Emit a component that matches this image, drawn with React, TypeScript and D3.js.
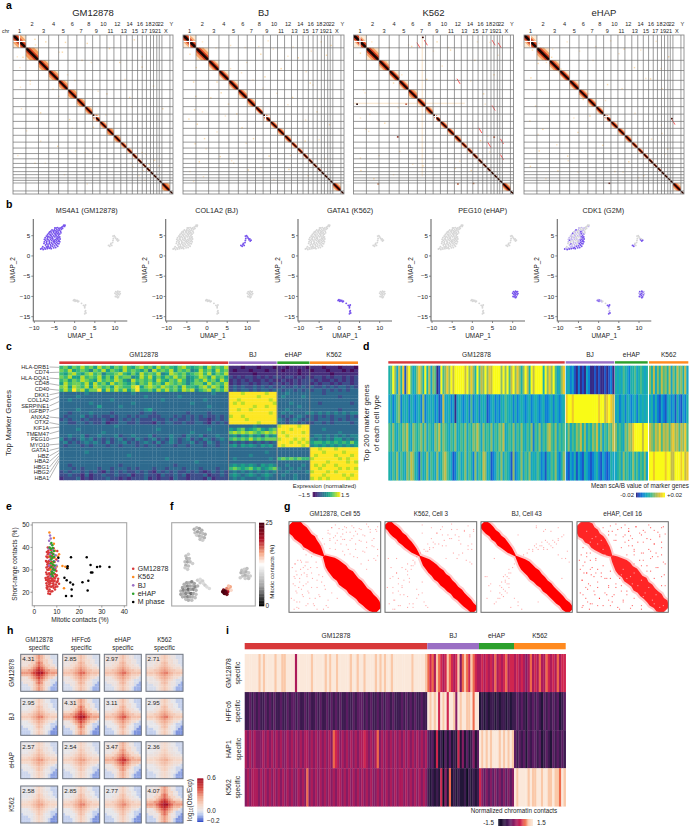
import * as d3 from 'd3';

const W = 696;
const H = 829;
const FONT = '"Liberation Sans", Arial, sans-serif';
const INK = '#262626';

// --- a: chromosome sizes in Mb, hg19
const chrNames = ['1','2','3','4','5','6','7','8','9','10','11','12','13','14','15','16','17','18','19','20','21','22','X','Y'];
const chrSizes = [249,243,198,191,181,171,159,146,141,135,135,133,115,107,102,90,81,78,59,63,48,51,155,59];
const contactTitles = ['GM12878','BJ','K562','eHAP'];
const contactBoxes = [[13,173],[183,344],[353.5,513.5],[524,684]];
// per chromosome share of strength of the intrachromosomal square
const blockGM = [.9,1,.95,.9,.9,1,.9,.85,.8,.8,1,.85,.7,.7,.6,.5,.5,.5,.4,.4,.4,.4,1,.1];
const blockBJ = [.8,.9,.8,.75,.75,.8,.8,.6,.7,.7,.8,.7,.6,.6,.5,.5,.5,.5,.4,.4,.4,.4,.8,.1];
const blockK5 = [.7,.85,.8,.7,.75,.9,.7,.8,.5,.7,.7,.7,.6,.6,.5,.5,.4,.4,.4,.4,.4,.4,.8,.1];
const blockEH = [.75,.85,.85,.7,.75,.8,.75,.7,.6,.7,.75,.7,.6,.6,.5,.5,.4,.4,.4,.4,.4,.4,.8,.1];
const specksGM = [[410,70],[620,120],[1000,130],[1420,150],[1850,250],[2330,80],[180,420],[940,320],[1320,480],[2050,520],[2480,610],[2700,980],[320,880],[760,1040],[1180,870],[1800,1130],[2240,1200],[2880,1420],[520,1500],[1080,1630],[1540,1780],[2020,1940],[2480,2270],[2620,2500],[2720,2420],[2810,2530],[2300,2550],[850,2150],[1380,2280],[410,2480]];
const specksBJ = [[120,360],[240,620],[190,900],[230,1180],[210,1440],[260,1720],[220,2100],[300,2450],[560,640],[640,900],[720,1110],[860,1330],[1020,1520],[1120,1790],[1340,2000],[1640,2340],[2020,2600],[2390,2720],[2640,120],[2740,380],[2200,430],[1870,640],[1560,800],[2430,920],[2090,1200],[2560,1480],[2800,1730],[700,2350],[960,2480],[1240,2610],[400,2000],[520,1210],[100,1620],[1480,360],[2830,190],[2330,2050]];
const specksK5 = [[120,340],[230,680],[180,1050],[300,1530],[230,1820],[120,2380],[130,2620],[380,2780],[620,500],[760,920],[1110,210],[1600,120],[1860,280],[2330,480],[2500,1130],[1720,1700],[1950,2580],[2260,2620],[2440,2040],[2700,760],[590,1700],[880,2250],[1330,2530],[1400,850]];
const specksEH = [[150,280],[260,540],[120,820],[300,1060],[210,1370],[100,1660],[350,1820],[280,2240],[110,2540],[520,420],[700,650],[930,980],[1130,1240],[1260,1560],[1030,1880],[830,2340],[1510,2130],[1740,2640],[2010,2450],[2300,2720],[2650,1030],[2430,840],[2120,620],[1920,260],[2780,410],[2650,1900],[2760,2200],[1600,950],[480,1320],[640,2630]];
const k562Arrows = [[1225,149],[1367,100],[2676,100],[2792,149],[1999,850],[2676,1369],[2418,1804],[2592,2083],[2837,2018],[2837,2323]];
const k562Spots = [[52,1330,'#200'],[838,1966,'#8c2d20'],[1322,32,'#300'],[1999,2880,'#b5502a'],[2300,2870,'#c87a50'],[460,2880,'#c87a50'],[1000,1330,'#c05a40'],[2700,1970,'#b05030']];
const ehapArrows = [[2856,1641]];
const ehapSpots = [[1631,2868,'#6a1a10'],[2840,1610,'#401008']];
const centromeres = [[0,125],[8,47]];

// --- b: UMAP cells [x, y, CDK1 level]
const umapGM = [[-8.4,1.7,2],[-8.1,1.9,1],[-7.8,1.6,2],[-7.5,2.0,1],[-7.3,1.7,2],[-7.0,2.2,1],[-6.8,1.8,2],[-6.5,2.3,1],[-6.3,1.9,2],[-6.0,2.1,2],[-5.8,1.8,2],[-5.5,2.4,2],[-5.2,2.0,2],[-5.0,2.5,2],[-4.7,2.1,2],[-4.5,2.7,2],[-4.2,2.4,2],
[-7.2,2.7,1],[-6.9,3.0,2],[-6.6,2.7,1],[-6.3,3.1,0],[-6.0,2.8,1],[-5.7,3.2,1],[-5.4,2.9,0],[-5.1,3.3,1],[-4.8,3.0,2],[-4.5,3.4,2],[-4.2,3.1,2],[-3.9,3.0,2],[-3.7,3.5,2],
[-7.5,3.5,1],[-7.2,3.9,2],[-6.9,3.6,0],[-6.6,4.0,1],[-6.3,3.7,0],[-6.0,4.1,1],[-5.7,3.8,0],[-5.4,4.2,1],[-5.1,3.8,0],[-4.8,4.1,1],[-4.5,3.9,2],[-4.2,4.2,2],[-3.9,3.9,2],[-3.6,4.2,2],
[-7.3,4.5,1],[-7.0,4.9,0],[-6.7,4.5,1],[-6.4,4.8,0],[-6.1,4.5,1],[-5.8,4.9,1],[-5.5,4.6,0],[-5.2,5.0,1],[-4.9,4.7,0],[-4.6,5.0,1],[-4.3,4.7,2],[-4.0,5.0,2],[-3.7,4.7,2],
[-6.7,5.3,1],[-6.4,5.6,2],[-6.1,5.3,0],[-5.8,5.7,1],[-5.5,5.4,0],[-5.2,5.8,1],[-4.9,5.5,0],[-4.6,5.8,1],[-4.3,5.5,2],[-4.0,5.8,1],[-3.7,5.4,2],
[-5.9,6.1,1],[-5.6,6.4,2],[-5.3,6.1,0],[-5.0,6.5,1],[-4.7,6.2,1],[-4.4,6.5,0],[-4.1,6.2,1],[-3.8,6.4,1],[-3.5,6.1,0],
[-4.6,6.9,0],[-4.2,7.0,1],[-3.9,6.7,0],[-3.6,6.9,1],[-3.3,6.6,0],[-3.2,7.1,0],[-2.9,7.3,0],[-2.7,7.6,0],[-2.5,7.3,1],[-2.4,7.6,0],
[-7.9,2.3,0],[-6.7,2.2,1],[-5.9,2.5,1],[-5.3,3.6,0],[-6.2,3.4,1],[-7.0,3.3,0],[-4.9,3.6,1],[-4.1,3.6,2],[-5.6,4.4,0],[-6.8,4.2,1],[-4.4,4.4,1],[-5.9,5.1,1],[-4.7,5.3,1],[-3.9,5.4,1],[-6.2,5.9,0],[-5.1,6.2,0],[-4.4,6.0,2],[-6.8,4.9,1],[-3.9,4.5,2],[-7.6,3.1,0],[-4.9,6.9,1],[-3.4,5.7,0],[-3.0,6.8,0],[-7.5,4.1,1]];
const umapBJ = [[8.4,2.6,2],[8.7,2.4,2],[8.9,2.8,1],[9.2,2.6,0],[9.0,3.1,0],[9.4,3.3,0],[9.5,3.8,0],[9.6,4.3,0],[9.5,4.9,0],[9.8,5.0,0],[10.0,4.7,0],[10.2,4.4,0],[10.4,4.0,2],[10.7,3.7,2],[10.9,3.9,2],[10.6,4.2,0]];
const umapEH = [[10.0,-9.2,1],[10.2,-8.8,2],[10.3,-9.5,2],[10.5,-9.0,1],[10.6,-9.8,2],[10.7,-8.7,2],[10.8,-9.4,1],[10.9,-10.1,2],[11.0,-8.9,2],[11.1,-9.6,2],[10.4,-10.1,1],[10.7,-10.3,2],[11.3,-9.3,1],[10.1,-10.0,2],[10.6,-9.3,2],[11.2,-8.8,1]];
const umapK5 = [[-0.3,-11.0,2],[-0.1,-10.8,1],[0.1,-11.2,2],[0.2,-10.9,2],[0.4,-11.1,1],[0.6,-11.0,1],[0.8,-11.3,1],[1.0,-11.2,0],[1.7,-11.7,0],[2.2,-12.2,2],[2.5,-12.4,2],[2.7,-12.1,2],[2.5,-12.8,1],[2.6,-13.8,1],[2.8,-14.1,2],[2.5,-14.3,2],[2.7,-13.5,1]];
const umapTitles = ['MS4A1 (GM12878)','COL1A2 (BJ)','GATA1 (K562)','PEG10 (eHAP)','CDK1 (G2M)'];
const umapAxisX = [33.3,165.7,298,431,557.3];
const umapTitleX = [86.7,216.7,350,482.7,603.3];
const umapHighlight = ['gm','bj','k5','eh','cdk1'];
const umapXTicks = [-10,-5,0,5,10];
const umapYTicks = [5,0,-5,-10,-15];

// --- c: expression levels, rows of [GM12878, BJ, eHAP, K562]
const exprRows = [
['6757686758675768657867586765786567586768','111011101110','11011110','111011101110'],
['7685676476857658676574867685767458675867','101110111011','10111011','011101110101'],
['6578657867466786575867684587675678685768','111111011111','11111011','111110111111'],
['7685586768575867745868575768674568758675','212122121212','21221212','122121221212'],
['6757687658676875486767586576864576867586','121212112121','12112122','212112121212'],
['5867768586758676575768675876764677586768','121221212212','21212122','121221212212'],
['7858768587675876689578768767586657868758','232322323232','23223232','322323233232'],
['6869785779586868579667586867587846785768','232332323323','32332323','233232323233'],
['3333334333333333343333333333333333334333','999899999899','33433333','333233333333'],
['3333433333333333333343333333433333333333','999999989999','34333343','333333323333'],
['3343333333334333333333334333333333433333','998999999989','33333333','333333333333'],
['3333333433333333343333333333333433333333','989899999998','33343333','332333333323'],
['3333333335333343333333333333333333343333','999999899899','33333433','333333333333'],
['3333433333333333333345333333333333333333','998998999999','33433333','333333323333'],
['3323333433332333333233233333332333323333','999999999989','34343334','434343434344'],
['3233342323223233232332223332323232322323','899899999999','32323432','323232333232'],
['2323323222321232323222322323223232212323','999989999999','43234323','323332323233'],
['3322332322312233223222132332232233213232','999999989999','33233232','233232333323'],
['3333333333333433333333333333333333333333','333333433333','89999899','333333333333'],
['3333433333333333333333343333333333343333','546745675467','99989999','333433333333'],
['3333333333433333333333333333333433333333','787878767878','98999989','333333343333'],
['3343342334333423343334233343324334233433','453546453645','99899999','344343434344'],
['4232343423232342324323423243234232432343','676768676777','89998989','434343553434'],
['3423234343242334232343242343233423243233','232323232323','99989898','566565656575'],
['3233323233323323332323323332332333233233','453545435453','98999989','454545454545'],
['3333333333333333333333333333333333333333','333333333333','33333333','998999899999'],
['3333334333333333333333333333333333333333','333333333433','33333333','999899998999'],
['3333333333333333433333333333333333333333','333334333333','33333333','989999899989'],
['3333333333333333333333333433333333333333','343333333343','67676766','899999989899'],
['3333333333333333333333333333333343333333','333333333333','33333333','999989999898'],
['3323333333333323333333333332333333333333','454545435454','33433343','989899899999'],
['3332323332332333232333233233323332333233','676567564567','43343433','998999989898'],
['2323323232132323223232132323223232123232','343434343434','33433334','899989899999'],
['2232213122322322312232213223231222312232','454345434543','34334333','999899998989'],
['1222312122232212122231212213221222131222','343433343433','33334333','898989999899'],
];
const geneNames = ['HLA-DRB1','CD74','HLA-DQA1','CD48','CD40','DKK1','COL1A2','SERPINE1','IGFBP7','ANXA2','OTX2','KIF1A','TMEM47','PEG10','MYO10','GATA1','HBZ','HBA2','HBG1','HBG2','HBA1'];
const geneRowTargets = [.5,2,4,6,7.5,8.3,9.5,11,13,16,18,18.8,20,22,24,25.2,26,26.8,27.6,28.4,29.2];

// --- d: mean scA/B per cell
const abRows = [
['4596374817953468649473650195686979999979686495769687999969695796864697497999949686953468','342310201032001010010120','43435432445345434','64736475647364756473'],
['3423562434243234262343423127334230343234252342434123423243543424234323423432342234243234','899899999999999989978987','34234243234243434','34242132134231421324'],
['5464354657436545646354365746543546345463546575364546354657345463546435462546354675463545','463546574635465746354657','64543657689999799','76576857675786757685'],
['4354635436576431534635436346754312453463542635476341235463543162346354634354231435463246','213241321432123421321243','34536453464535463','99899999899779998978'],
];
const abDigitColors = ['#352a87','#1c55c8','#0f7fd6','#12a4c4','#1fb0a8','#4ebb88','#8fbc62','#c4bc44','#eec92a','#f9fb15'];

// --- i: normalized contacts per cell
const contactRows = [
['99999989899998998899995999999899999898998999998998998999989898998999999998999998','767587656876568478768765','5656565756567566','56565457565755765657566'],
['22323232232323223223233232232322323223232323223223233323232232323323222323232322322','989896989699849899889799','1212122121221212','23232132323213232323123'],
['54545444545454545445454545455454545454547654545454545565454574545454545454545454545','323161203131216141312413','9898989998989898','32323132332312321323232'],
['45455545454545454545454454547454545454545455454545454545454454545454545545454545454','212121604171212112021212','6434343434343434','98999989889989988988798'],
];
const contactDigitColors = ['#0d0a24','#241338','#3d1a50','#5b1e62','#861d63','#ad1a5a','#cf2550','#ef6a4c','#fac8a8','#fbe8da'];

// shared group names and colours
const groupNames = ['GM12878','BJ','eHAP','K562'];
const groupColors = ['#d8393a','#9a6fc4','#2ca02c','#ff8a1f'];

// --- e: mitotic vs short-range contacts, in percent
const scatterGM = [[5.2,25.5],[5.4,24],[5.6,23],[5.8,21.5],[6,22.5],[6.2,19.5],[6.4,20.5],[6.6,23.5],[6,25],[6.8,21.2],[7,19.2],[7.2,24],[7.6,22.5],[7.8,26],[8,20.5],[8.4,24],[8.6,22],[9,25],[9.2,21.2],[9.6,23.5],[10,24.5],[10.2,22.6],[10.6,26],[6.2,27],[6.6,28.5],[6.8,26.2],[7.2,27.5],[7.6,29],[8,27.5],[8.4,28.5],[8.8,26.5],[9.2,28],[9.6,27],[5.6,28],[5.8,30],[6,31.5],[6.2,33],[6.4,30],[6.6,32],[6.8,34],[7,30.8],[7.2,33],[7.4,35],[7.6,31.5],[7.8,33.5],[8,30],[8.2,32],[8.4,35.5],[8.8,31],[9,33.5],[9.4,30.5],[5.6,33.5],[5.8,35.5],[6,37],[6.2,38.5],[6.4,35.8],[6.6,39.8],[6.8,37.5],[7.2,39],[7.6,37.4],[8,38.8],[8.4,37.2],[5.4,31],[5.4,36],[6.8,28],[7.4,26.4],[5.8,26.6],[9.8,29.5],[7.8,25],[8.6,23.2],
[5,26.4],[5.3,28.8],[5.5,22],[6.4,24.4],[7,22.6],[7.4,20.4],[8.2,22.8],[8.8,25],[9.4,22.4],[10.4,25],[11,23.8],[6.2,25.8],[7,25],[8.2,25.6],[9.2,26.2],[10,27.6],[5.2,34],[5.6,38],[6.4,34],[7,36],[5.8,32.4],[6.4,37.6],[7.8,36.2],[7,31.8],[9.8,34.6],[10.2,38.4],[8.6,39.6],[6,40],[6.6,30.4],[7.8,28.2]];
const scatterK5 = [[6.7,46.7],[8.7,44.2],[8.7,41.6],[12.5,31.7],[13.8,31.4],[14.7,31],[13.2,21.8],[9,35.4],[10.5,36],[11,37],[10,31.5],[8,33],[7.3,30],[9.2,38.5],[6.8,36]];
const scatterBJ = [[7,45.3],[7.3,44],[6.6,43],[7.3,41.5],[6.4,39.5],[7,37],[8.2,39],[9.5,36.5],[8.8,34],[6.6,32],[8,29.5],[7.4,27.2],[9.8,32],[10.6,34],[9.2,31],[7,34.5]];
const scatterEH = [[7.6,42],[8,41],[6.8,40],[7.4,39.4],[8.2,39.8],[8.8,38.4],[7.6,37.8],[8.4,37],[7.2,36],[8,35.4],[8.8,35.8],[7.6,34.6],[8.6,33.6],[7.4,33],[8.2,32.4],[9,32],[7.6,31.2],[8.4,30.4],[7.8,29.2],[8.6,28.6],[7.6,28],[8.2,27.2],[9,29.8]];
const scatterM = [[10.7,35.4],[16.3,35.6],[23.3,35.6],[25,32.2],[14.7,30.7],[14.8,31.6],[27.9,31.3],[29.2,31.5],[33.4,31.3],[25.8,28.8],[25.2,28.8],[13.4,26.5],[14.4,25.4],[16,24.4],[17.2,23.5],[21.4,24.5],[24,25.1],[23.7,20.8],[16.6,21.3],[14.1,18.4],[16.6,18.4]];
const scatterLegend = ['GM12878','K562','BJ','eHAP','M phase'];
const scatterColors = ['#d8393a','#ff8a1f','#9a6fc4','#2ca02c','#000000'];
const scatterXTicks = [0,10,20,30,40];
const scatterYTicks = [20,30,40,50];

// --- f: cells on the UMAP [x, y, mitotic %]
const mitoticCells = [[27,8,7],[30,6,8],[33,7,6],[36,9,7],[28,12,8],[31,11,6],[34,12,7],[37,13,8],[40,14,7],[30,15,9],[33,16,7],[36,17,8],[39,18,7],[34,20,8],[37,21,9],
[17,40,8],[20,38,9],[18,43,7],[21,43,8],[16,47,8],[19,47,6],[22,47,8],[25,49,9],[17,51,7],[20,52,8],[19,56,9],[16,54,9],
[84,57,8],[87,56,9],[90,55,8],[83,60,7],[86,60,8],[89,59,7],[92,60,9],[85,64,8],[88,63,7],[91,64,8],[94,64,9],[88,67,9],[92,67,8],[82,66,9],
[15,74,7],[18,72,6],[21,72,7],[24,71,5],[27,73,6],[13,78,6],[16,77,7],[19,76,5],[22,76,6],[25,76,7],[28,77,5],[31,76,7],[11,82,7],[14,81,5],[17,81,6],[20,80,4],[23,80,6],[26,80,5],[29,81,7],[11,86,6],[14,85,7],[17,85,5],[20,84,6],[23,85,4],[26,85,6],[29,86,8],[13,89,7],[16,89,6],[19,89,5],[22,89,6],[25,89,7],[28,90,8],[17,92,8],[20,93,7],[24,93,8],
[31,69,9],[34,68,10],[37,70,9],[34,72,9],[38,73,10],[40,75,9],[42,77,10],[45,79,10],
[66,79,17],[69,80,16],[70,77,16],[68,76,15],[71,81,14],[67,83,20],[62,81,23],[64,82,25],[66,86,23],[61,83,25],[63,85,25],[65,84,24]];

// --- g: diagonal band half widths per arm, and off-diagonal contacts
const cellTitles = ['GM12878, Cell 55','K562, Cell 3','BJ, Cell 43','eHAP, Cell 16'];
const cellBoxes = [[289,380.7],[385,476.7],[481,572.3],[577,668.3]];
const armOne = [[4,6,6.5,6,6.5,6,5.5,6,5,4.5,3.5,2,.4],[3.5,4,3.5,4,4,3.5,4,3.5,3.5,3,2.5,1.5,.3],[3.5,4,4,4,3.5,4,3.5,4,3.5,3,2.5,1.5,.3],[4.5,7,6.5,7.5,6.5,7,6,6.5,6,5,4,2.5,.6]];
const armTwo = [[1,3,5,6,6.5,7,6.5,7.5,7,6.5,7,6.5,6,6.5,6,6,5.5,5,4.5],[.5,2,3.5,4,4.5,4.5,5,4.5,5,4.5,4.5,4,4.5,4,4,4,3.5,3.5,3],[.5,2,3.5,4.5,4.5,4.5,5,4.5,4.5,4,4.5,4,4,4,4,3.5,4,3.5,3],[1,3,4.5,6,6.5,6,7,6.5,6,7,6,6.5,6,6,6.5,5.5,6,5.5,5]];
const specksCell = [
[[6,46],[9,42],[5,60],[12,52],[18,44],[24,38],[15,30],[22,28],[10,72],[14,80],[8,88],[20,66],[30,50],[32,58],[42,12],[50,15],[58,13],[66,11],[74,13],[82,15],[88,11],[56,24],[64,30],[72,24],[80,32],[90,26],[62,6],[94,42],[30,72],[20,90],[40,92],[52,84],[10,95],[28,84],[8,58],[16,56],[26,34],[18,36],[3,50],[4,68],[7,76],[11,62],[13,44],[15,70],[17,48],[19,58],[21,78],[23,50],[25,62],[27,92],[29,44],[33,82],[35,66],[37,96],[39,74],[2,84],[5,96],[46,6],[54,7],[70,6],[78,8],[86,5],[94,8],[44,20],[52,20],[60,19],[68,18],[76,20],[84,22],[92,18],[96,30],[70,38],[86,42],[78,46],[60,36]],
[[3,40],[5,62],[8,78],[4,90],[12,56],[18,50],[24,46],[30,42],[34,38],[46,32],[52,28],[58,24],[64,20],[70,18],[76,14],[86,10],[92,14],[60,8],[74,34],[88,42],[94,30],[20,80],[30,90],[10,96],[44,92],[16,92],[6,50],[82,24],[26,66],[96,8],[28,48],[22,52],[32,44],[14,62],[18,72],[9,86],[2,72],[36,80],[24,94],[48,30],[54,24],[62,26],[68,14],[80,16],[90,26],[56,12],[72,8],[84,34],[78,40],[94,46],[40,66],[12,40]],
[[50,34],[56,32],[62,30],[68,28],[74,24],[80,22],[84,20],[58,26],[70,20],[46,36],[24,60],[26,66],[22,72],[20,78],[18,84],[24,82],[30,56],[8,70],[6,84],[40,88],[60,6],[76,10],[92,40],[88,62],[14,40],[32,94],[52,30],[64,26],[72,30],[78,28],[88,16],[28,60],[30,68],[22,66],[26,76],[14,90],[4,60],[44,96],[68,10],[84,36]],
[[4,36],[8,44],[3,52],[10,56],[5,64],[12,68],[3,78],[9,84],[6,92],[14,90],[16,50],[18,60],[22,72],[24,84],[28,92],[32,80],[30,62],[38,88],[44,94],[42,72],[50,86],[36,62],[14,42],[22,52],[48,6],[56,10],[64,5],[72,9],[80,6],[88,11],[94,5],[56,20],[66,22],[76,18],[84,24],[92,22],[62,32],[72,34],[82,38],[92,36],[76,48],[88,50],[95,58],[84,62],[28,48],[36,54],[48,70],[6,28],[10,34],[34,14],[42,20],[2,42],[7,56],[11,74],[15,58],[19,80],[13,96],[26,56],[34,70],[40,80],[46,62],[54,76],[60,92],[70,96],[20,40],[26,30],[38,10],[52,14],[60,26],[70,14],[78,30],[90,16],[68,42],[80,54],[92,70],[86,34],[96,46]],
];
const ehapHoles = [[10,10],[16,18],[22,24],[14,22],[28,30],[20,16],[30,36],[26,20],[50,52],[58,60],[66,70],[74,78],[82,86],[90,94],[54,62],[62,56],[70,64],[78,72],[86,80],[48,58],[72,82],[84,90],[60,68],[94,92]];

// --- h: pileup levels, one shared aggregate and one strength for each panel
const pileupGrid = ['222223454322111','222223454322111','222233454332211','222233565332211','222334565433221','333345676543332','444556787655444','555567899765555','444456787654443','222345676543321','222234565432111','122223565322110','111223454322100','111123454321000','111123454321000'];
const pileupCols = ['GM12878','HFFc6','eHAP','K562'];
const pileupRows = ['GM12878','BJ','eHAP','K562'];
const pileupScores = [['4.31','2.85','2.97','2.71'],['2.95','4.31','3.11','2.95'],['2.57','2.54','3.47','2.36'],['2.58','2.85','2.77','4.07']];
const pileupStrength = [[1,.62,.6,.55],[.6,1.05,.72,.62],[.5,.48,.85,.4],[.5,.6,.58,1.1]];
const pileupShift = [0,-.03,-.015,-.03];
const pileupColX = [20.7,62.7,104.3,146];
const pileupRowY = [654.3,698.3,741.7,786];
const iRowLabels = ['GM12878','HFFc6','HAP1','K562'];

const T = ({ x, y, size = 6.5, anchor = 'start', weight = 'normal', rotate, children, fill = INK }: any) => (
  <text
    x={x}
    y={y}
    fontSize={size}
    textAnchor={anchor}
    fontWeight={weight}
    fill={fill}
    fontFamily={FONT}
    transform={rotate !== undefined ? `rotate(${rotate} ${x} ${y})` : undefined}
  >
    {children}
  </text>
);

const diagBand = (x0: number, y0: number, x1: number, y1: number, w: number) =>
  d3.line()([[x0, y0], [x0 + w, y0], [x1, y1 - w], [x1, y1], [x1 - w, y1], [x0, y0 + w]]) + 'Z';

const ContactMap = ({ index }: { index: number }) => {
  const [left, right] = contactBoxes[index];
  const top = 35;
  const bottom = 194;
  const ends = Array.from(d3.cumsum(chrSizes));
  const total = ends[ends.length - 1];
  const sx = d3.scaleLinear().domain([0, total]).range([left, right]);
  const sy = d3.scaleLinear().domain([0, total]).range([top, bottom]);
  const starts = [0, ...ends.slice(0, -1)];
  const strength = [blockGM, blockBJ, blockK5, blockEH][index];
  const specks = [specksGM, specksBJ, specksK5, specksEH][index];
  const arrows = index === 2 ? k562Arrows : index === 3 ? ehapArrows : [];
  const spots: any[] = index === 2 ? k562Spots : index === 3 ? ehapSpots : [];
  return (
    <g>
      <T x={(left + right) / 2} y={16} size={9.5} anchor="middle">{contactTitles[index]}</T>
      {index === 0 ? <T x={2} y={32.5} size={5.3}>chr</T> : null}
      {chrNames.map((name, i) => (
        <T key={name} x={sx(starts[i] + chrSizes[i] / 2)} y={i % 2 ? 25.5 : 32.5} size={5.6} anchor="middle">{name}</T>
      ))}
      {index === 2 && (
        <g fill="#f9e2c4" opacity={0.7}>
          <rect x={sx(0)} y={sy(1315)} width={sx(2150) - sx(0)} height={1.4} />
          <rect x={sx(1315)} y={sy(0)} width={1.4} height={sy(2750) - sy(0)} />
        </g>
      )}
      {specks.flatMap(([a, b], i) => [
        <rect key={`s${i}`} x={sx(a)} y={sy(b)} width={1.4} height={1.4} fill="#f9c77e" opacity={0.65} />,
        <rect key={`m${i}`} x={sx(b)} y={sy(a)} width={1.4} height={1.4} fill="#fbd49a" opacity={0.55} />,
      ])}
      {chrSizes.map((_, i) => {
        const s = strength[i];
        const x0 = sx(starts[i]);
        const x1 = sx(ends[i]);
        const y0 = sy(starts[i]);
        const y1 = sy(ends[i]);
        const side = x1 - x0;
        return (
          <g key={i}>
            <rect x={x0} y={y0} width={side} height={y1 - y0} fill="#fbd7ae" opacity={0.85 * s * s} />
            <path d={diagBand(x0, y0, x1, y1, side * 0.66 * s)} fill="#f3914a" opacity={0.85 * s} />
            <path d={diagBand(x0, y0, x1, y1, side * 0.32)} fill="#d8401e" />
            <path d={diagBand(x0, y0, x1, y1, Math.max(0.9, side * 0.15))} fill="#180402" />
          </g>
        );
      })}
      {centromeres.map(([c, pos]) => {
        const p = starts[c] + pos;
        const l = sx(starts[c]);
        const r = sx(ends[c]);
        return (
          <g key={c} fill="#fff">
            <rect x={l} y={sy(p) - 0.6} width={r - l} height={1.2} />
            <rect x={sx(p) - 0.6} y={sy(starts[c])} width={1.2} height={sy(ends[c]) - sy(starts[c])} />
          </g>
        );
      })}
      {arrows.map(([a, b], i) => (
        <line key={i} x1={sx(a)} y1={sy(b)} x2={sx(a + 60)} y2={sy(b + 100)} stroke="#ff4a4a" strokeWidth={0.9} />
      ))}
      {spots.map(([a, b, c], i) => (
        <rect key={i} x={sx(a)} y={sy(b)} width={1.8} height={1.5} fill={c} />
      ))}
      <rect x={left} y={top} width={right - left} height={bottom - top} fill="none" stroke="#8a8a8a" strokeWidth={0.9} />
      <g stroke="#707070" strokeWidth={0.7}>
        {ends.slice(0, -1).map((e) => (
          <g key={e}>
            <line x1={sx(e)} x2={sx(e)} y1={top} y2={bottom} />
            <line x1={left} x2={right} y1={sy(e)} y2={sy(e)} />
          </g>
        ))}
      </g>
    </g>
  );
};

const UmapPanel = ({ index }: { index: number }) => {
  const ax = umapAxisX[index];
  const sx = d3.scaleLinear().domain([-10, 10]).range([ax + 1, ax + 81.7]);
  const sy = d3.scaleLinear().domain([5, -15]).range([235.7, 316.7]);
  const mode = umapHighlight[index];
  const purple = '#7653ec';
  const pale = '#c5b8ef';
  const gray = '#d6d6d6';
  const colorFor = (group: string, c: number) => {
    if (mode === 'cdk1') return c === 2 ? purple : c === 1 ? pale : gray;
    return group === mode ? purple : gray;
  };
  const groups: [string, number[][]][] = [['gm', umapGM], ['bj', umapBJ], ['eh', umapEH], ['k5', umapK5]];
  return (
    <g>
      <T x={umapTitleX[index]} y={213} size={7.2} anchor="middle">{umapTitles[index]}</T>
      {groups.map(([g, pts]) =>
        pts.map(([x, y, c], i) => <circle key={g + i} cx={sx(x)} cy={sy(y)} r={0.95} fill={colorFor(g, c)} />)
      )}
      <path d={`M${ax},219V321H${ax + 94}`} fill="none" stroke="#6a6a6a" strokeWidth={1.1} />
      {umapXTicks.map((t) => (
        <g key={t}>
          <line x1={sx(t)} x2={sx(t)} y1={321} y2={323} stroke="#6a6a6a" strokeWidth={0.8} />
          <T x={sx(t)} y={329.5} size={6.2} anchor="middle">{String(t).replace('-', '\u2212')}</T>
        </g>
      ))}
      {umapYTicks.map((t) => (
        <g key={t}>
          <line x1={ax - 2} x2={ax} y1={sy(t)} y2={sy(t)} stroke="#6a6a6a" strokeWidth={0.8} />
          <T x={ax - 3} y={sy(t) + 2.2} size={6.2} anchor="end">{String(t).replace('-', '\u2212')}</T>
        </g>
      ))}
      <T x={ax + 47} y={338} size={6.4} anchor="middle">UMAP_1</T>
      <T x={ax - 18.5} y={270} size={6.4} anchor="middle" rotate={-90}>UMAP_2</T>
    </g>
  );
};

// bands per group so each cell string fits its own header segment
const GroupHeat = ({ rows, edges, rowEdges, color }: any) => (
  <g filter="url(#soft)">
    {rows.map((row: string[], r: number) =>
      row.map((cells: string, g: number) => {
        const sx = d3.scaleLinear().domain([0, cells.length]).range([edges[g][0], edges[g][1]]);
        return cells.split('').map((d, c) => (
          <rect
            key={`${r}-${g}-${c}`}
            x={sx(c)}
            y={rowEdges(r)}
            width={sx(c + 1) - sx(c) + 0.25}
            height={rowEdges(r + 1) - rowEdges(r) + 0.25}
            fill={color(+d)}
          />
        ));
      })
    )}
  </g>
);

const GroupBar = ({ edges, y, height, labelY, size = 6.6 }: any) => (
  <g>
    {edges.map(([a, b]: number[], i: number) => (
      <g key={i}>
        <rect x={a} y={y} width={b - a} height={height} fill={groupColors[i]} />
        <T x={(a + b) / 2} y={labelY} size={size} anchor="middle">{groupNames[i]}</T>
      </g>
    ))}
  </g>
);

const HBar = ({ x0, x1, y, h, color }: any) => {
  const s = d3.scaleLinear().domain([0, 40]).range([x0, x1]);
  return (
    <g>
      {d3.range(40).map((i) => (
        <rect key={i} x={s(i)} y={y} width={s(1) - s(0) + 0.3} height={h} fill={color(i / 39)} />
      ))}
    </g>
  );
};

const VBar = ({ x, w, y0, y1, color }: any) => {
  const s = d3.scaleLinear().domain([0, 60]).range([y0, y1]);
  return (
    <g>
      {d3.range(60).map((i) => (
        <rect key={i} x={x} y={s(i)} width={w} height={s(1) - s(0) + 0.3} fill={color(i / 59)} />
      ))}
    </g>
  );
};

const MarkerPanel = () => {
  const edges = [[59.3, 228.3], [228.9, 276.7], [277.3, 309.5], [310, 358]];
  const rowEdges = d3.scaleLinear().domain([0, exprRows.length]).range([365.7, 480]);
  const color = (d: number) => d3.interpolateViridis(0.02 + d * 0.109);
  const labelY = d3.scaleLinear().domain([0, 20]).range([368.8, 480]);
  return (
    <g>
      <GroupBar edges={edges} y={361.4} height={2.6} labelY={357} />
      <GroupHeat rows={exprRows} edges={edges} rowEdges={rowEdges} color={color} />
      {edges.slice(0, 3).map(([, b]) => (
        <line key={b} x1={b + 0.3} x2={b + 0.3} y1={365.7} y2={480} stroke="#808080" strokeWidth={0.8} />
      ))}
      <T x={11} y={423} size={8} anchor="middle" rotate={-90}>Top Marker Genes</T>
      {geneNames.map((g, i) => (
        <g key={g}>
          <T x={49} y={labelY(i)} size={5.6} anchor="end">{g}</T>
          <line x1={49.5} y1={labelY(i) - 1.8} x2={59} y2={rowEdges(geneRowTargets[i])} stroke="#444" strokeWidth={0.4} />
        </g>
      ))}
      <T x={324.5} y={488} size={5.9} anchor="middle">Expression (normalized)</T>
      <T x={310} y={497.2} size={5.9} anchor="end">{'\u22121.5'}</T>
      <HBar x0={312.7} x1={340} y={492} h={5} color={d3.interpolateViridis} />
      <T x={341} y={497.2} size={5.9}>1.5</T>
    </g>
  );
};

const AbPanel = () => {
  const edges = [[388.3, 564.7], [565.7, 614.3], [615, 647.7], [649, 688.3]];
  const rowEdges = d3.scaleLinear().domain([0, abRows.length]).range([365.7, 480.3]);
  return (
    <g>
      <GroupBar edges={edges} y={361.2} height={2.4} labelY={357} />
      <GroupHeat rows={abRows} edges={edges} rowEdges={rowEdges} color={(d: number) => abDigitColors[d]} />
      <T x={368.7} y={423} size={7.8} anchor="middle" rotate={-90}>Top 200 marker genes</T>
      <T x={379} y={423} size={7.8} anchor="middle" rotate={-90}>of each cell type</T>
      <T x={640} y={488} size={6.3} anchor="middle">Mean scA/B value of marker genes</T>
      <T x={634} y={497.4} size={6} anchor="end">-0.02</T>
      <HBar
        x0={636}
        x1={664.7}
        y={492.7}
        h={4.6}
        color={d3.scaleLinear<string>().domain(d3.range(10).map((i) => i / 9)).range(abDigitColors)}
      />
      <T x={667} y={497.4} size={6}>+0.02</T>
    </g>
  );
};

const ScatterPanel = () => {
  const sx = d3.scaleLinear().domain([0, 40]).range([34.3, 124.3]);
  const sy = d3.scaleLinear().domain([20, 50]).range([592.3, 525]);
  const series = [scatterGM, scatterK5, scatterBJ, scatterEH, scatterM];
  return (
    <g>
      {series.map((pts, s) =>
        pts.map(([x, y], i) => <circle key={`${s}-${i}`} cx={sx(x)} cy={sy(y)} r={1.25} fill={scatterColors[s]} />)
      )}
      <rect x={32.3} y={522.7} width={94.4} height={83} fill="none" stroke="#a8a8a8" strokeWidth={1.1} />
      {scatterXTicks.map((t) => (
        <g key={t}>
          <line x1={sx(t)} x2={sx(t)} y1={605.7} y2={607.5} stroke="#777" strokeWidth={0.7} />
          <T x={sx(t)} y={614} size={6.6} anchor="middle">{t}</T>
        </g>
      ))}
      {scatterYTicks.map((t) => (
        <g key={t}>
          <line x1={30.5} x2={32.3} y1={sy(t)} y2={sy(t)} stroke="#777" strokeWidth={0.7} />
          <T x={29.5} y={sy(t) + 2.3} size={6.6} anchor="end">{t}</T>
        </g>
      ))}
      <T x={80} y={622} size={6.6} anchor="middle">Mitotic contacts (%)</T>
      <T x={17} y={564} size={6.6} anchor="middle" rotate={-90}>Short-range contacts (%)</T>
      {scatterLegend.map((name, i) => (
        <g key={name}>
          <circle cx={133.2} cy={568.7 + i * 8.33} r={1.3} fill={scatterColors[i]} />
          <T x={137.7} y={571 + i * 8.33} size={7}>{name}</T>
        </g>
      ))}
    </g>
  );
};

const MitoticPanel = () => {
  const sx = d3.scaleLinear().domain([0, 100]).range([171.7, 255.3]);
  const sy = d3.scaleLinear().domain([0, 100]).range([522.7, 606]);
  const color = d3.scaleLinear<string>().domain([0, 6, 12.5, 16, 20, 25]).range(['#000000', '#a4a4a4', '#ffffff', '#f4a582', '#b2182b', '#4a0010']);
  return (
    <g>
      <g filter="url(#soft)">
        {mitoticCells.map(([x, y, v], i) => (
          <circle key={i} cx={sx(x)} cy={sy(y)} r={1.8} fill={color(v)} />
        ))}
      </g>
      <rect x={171.7} y={522.7} width={83.6} height={83.3} fill="none" stroke="#a8a8a8" strokeWidth={1.1} />
      <VBar x={259} w={5.3} y0={522.7} y1={606} color={(t: number) => color(25 * (1 - t))} />
      <T x={265.5} y={525} size={6.4}>25</T>
      <T x={265.5} y={608} size={6.4}>0</T>
      <T x={274} y={571.7} size={6.2} anchor="middle" rotate={-90}>Mitotic contacts (%)</T>
    </g>
  );
};

const CellMap = ({ index }: { index: number }) => {
  const [left, right] = cellBoxes[index];
  const top = 521.7;
  const bottom = 612.3;
  const sx = d3.scaleLinear().domain([0, 100]).range([left, right]);
  const sy = d3.scaleLinear().domain([0, 100]).range([top, bottom]);
  const makeBand = (widths: number[], from: number, to: number, extra: number) => {
    const t = d3.scaleLinear().domain([0, widths.length - 1]).range([from, to]);
    const upper = widths.map((w, i) => [sx(Math.min(100, t(i) + w + extra)), sy(Math.max(0, t(i) - w - extra))] as [number, number]);
    const lower = widths.map((w, i) => [sx(Math.max(0, t(i) - w - extra)), sy(Math.min(100, t(i) + w + extra))] as [number, number]);
    return d3.line()([...upper, ...lower.reverse()]) + 'Z';
  };
  const bandOpacity = index === 3 ? 0.82 : 1;
  const speckOpacity = index === 3 ? 0.6 : 0.34;
  return (
    <g>
      <T x={(left + right) / 2} y={516} size={6.3} anchor="middle">{cellTitles[index]}</T>
      <clipPath id={`cell${index}`}><rect x={left} y={top} width={right - left} height={bottom - top} /></clipPath>
      <g clipPath={`url(#cell${index})`}>
        {specksCell[index].flatMap(([a, b], i) => [
          <rect key={`a${i}`} x={sx(a)} y={sy(b)} width={1.1} height={1.1} fill="#ff0000" opacity={speckOpacity} />,
          <rect key={`b${i}`} x={sx(b)} y={sy(a)} width={1.1} height={1.1} fill="#ff0000" opacity={speckOpacity * 0.85} />,
        ])}
        <path d={makeBand(armOne[index], 0, 38, 1.8)} fill="#ff0000" opacity={0.2} />
        <path d={makeBand(armTwo[index], 38, 100, 1.8)} fill="#ff0000" opacity={0.2} />
        <path d={makeBand(armOne[index], 0, 38, 0)} fill="#ff0000" opacity={bandOpacity} />
        <path d={makeBand(armTwo[index], 38, 100, 0)} fill="#ff0000" opacity={bandOpacity} />
        {index === 3 && ehapHoles.map(([a, b], i) => (
          <rect key={i} x={sx(a)} y={sy(b)} width={1.1} height={1.1} fill="#fff" opacity={0.55} />
        ))}
      </g>
      <rect x={left} y={top} width={right - left} height={bottom - top} fill="none" stroke="#6a6a6a" strokeWidth={1} />
    </g>
  );
};

const pileupColor = d3.scaleLinear<string>()
  .domain([-0.2, -0.08, 0, 0.1, 0.25, 0.42, 0.6])
  .range(['#3550c8', '#b4c6ee', '#e6e6ea', '#f5d6c6', '#f0a488', '#d6443a', '#a50f26']);

const PileupPanel = () => {
  const cell = 37 / pileupGrid.length;
  const sc = d3.scaleLinear().domain([0, pileupGrid.length]).range([0, 37]);
  return (
    <g>
      {pileupCols.map((c, i) => (
        <g key={c}>
          <T x={pileupColX[i] + 18.5} y={641.7} size={6.3} anchor="middle">{c}</T>
          <T x={pileupColX[i] + 18.5} y={650.3} size={6.3} anchor="middle">specific</T>
        </g>
      ))}
      {pileupRows.map((rowName, r) => (
        <T key={r} x={14} y={pileupRowY[r] + 18.5} size={6.3} anchor="middle" rotate={-90}>{rowName}</T>
      ))}
      {pileupRows.map((_, r) =>
        pileupCols.map((__, c) => {
          const x = pileupColX[c];
          const y = pileupRowY[r];
          return (
            <g key={`${r}-${c}`}>
              <g filter="url(#soft)">
                {pileupGrid.map((line, j) =>
                  line.split('').map((d, i) => {
                    const v = +d * 0.075 - 0.1;
                    const value = (v > 0 ? v * pileupStrength[r][c] : v) + pileupShift[r];
                    return <rect key={`${j}-${i}`} x={x + sc(i)} y={y + sc(j)} width={cell + 0.2} height={cell + 0.2} fill={pileupColor(value)} />;
                  })
                )}
              </g>
              <rect x={x} y={y} width={37} height={37} fill="none" stroke="#6f7580" strokeWidth={1} />
              <T x={x + 1.6} y={y + 6.8} size={6.2}>{pileupScores[r][c]}</T>
            </g>
          );
        })
      )}
      <VBar x={197.3} w={6} y0={778.3} y1={821.7} color={(t: number) => pileupColor(0.6 - 0.8 * t)} />
      <T x={207} y={780} size={6.4}>0.6</T>
      <T x={207} y={812.5} size={6.4}>0.0</T>
      <T x={207} y={822.5} size={6.4}>{'\u22120.2'}</T>
      <text x={192} y={800} fontSize={6.3} textAnchor="middle" fill={INK} fontFamily={FONT} transform="rotate(-90 192 800)">
        log<tspan fontSize={4.6} dy={1.4}>10</tspan><tspan dy={-1.4}>(Obs/Exp)</tspan>
      </text>
    </g>
  );
};

const ContactHeatPanel = () => {
  const edges = [[244.7, 427.3], [427.3, 479], [479, 514], [514, 565.7]];
  const rowEdges = d3.scaleLinear().domain([0, contactRows.length]).range([654, 806.3]);
  return (
    <g>
      <GroupBar edges={edges} y={643} height={6.3} labelY={638} />
      <GroupHeat rows={contactRows} edges={edges} rowEdges={rowEdges} color={(d: number) => contactDigitColors[d]} />
      {iRowLabels.map((l, i) => {
        const cy = (rowEdges(i) + rowEdges(i + 1)) / 2;
        return (
          <g key={l}>
            <T x={231} y={cy} size={6.8} anchor="middle" rotate={-90}>{l}</T>
            <T x={240.5} y={cy} size={6.8} anchor="middle" rotate={-90}>specific</T>
          </g>
        );
      })}
      <T x={514} y={813} size={6.3} anchor="middle">Normalized chromatin contacts</T>
      <T x={494} y={825} size={6.3} anchor="end">-1.5</T>
      <HBar
        x0={498.3}
        x1={532.7}
        y={819}
        h={7}
        color={d3.scaleLinear<string>().domain(d3.range(10).map((i) => i / 9)).range(contactDigitColors)}
      />
      <T x={537} y={825} size={6.3}>1.5</T>
    </g>
  );
};

const panelLetters: [string, number, number][] = [['a', 6, 9], ['b', 6, 208], ['c', 6, 350], ['d', 363, 350], ['e', 6, 510], ['f', 170, 510], ['g', 284, 510], ['h', 7, 634], ['i', 226, 634]];

export default function App() {
  return (
    <svg width={W} height={H} viewBox={`0 0 ${W} ${H}`} style={{ position: 'absolute', left: 0, top: 0, background: '#fff' }}>
      <defs>
        <filter id="soft" x="-2%" y="-2%" width="104%" height="104%">
          <feGaussianBlur stdDeviation="0.45" />
        </filter>
      </defs>
      {panelLetters.map(([l, x, y]) => (
        <T key={l} x={x} y={y} size={10.5} weight="bold" fill="#000">{l}</T>
      ))}
      {contactTitles.map((_, i) => <ContactMap key={i} index={i} />)}
      {umapTitles.map((_, i) => <UmapPanel key={i} index={i} />)}
      <MarkerPanel />
      <AbPanel />
      <ScatterPanel />
      <MitoticPanel />
      {cellTitles.map((_, i) => <CellMap key={i} index={i} />)}
      <PileupPanel />
      <ContactHeatPanel />
    </svg>
  );
}
